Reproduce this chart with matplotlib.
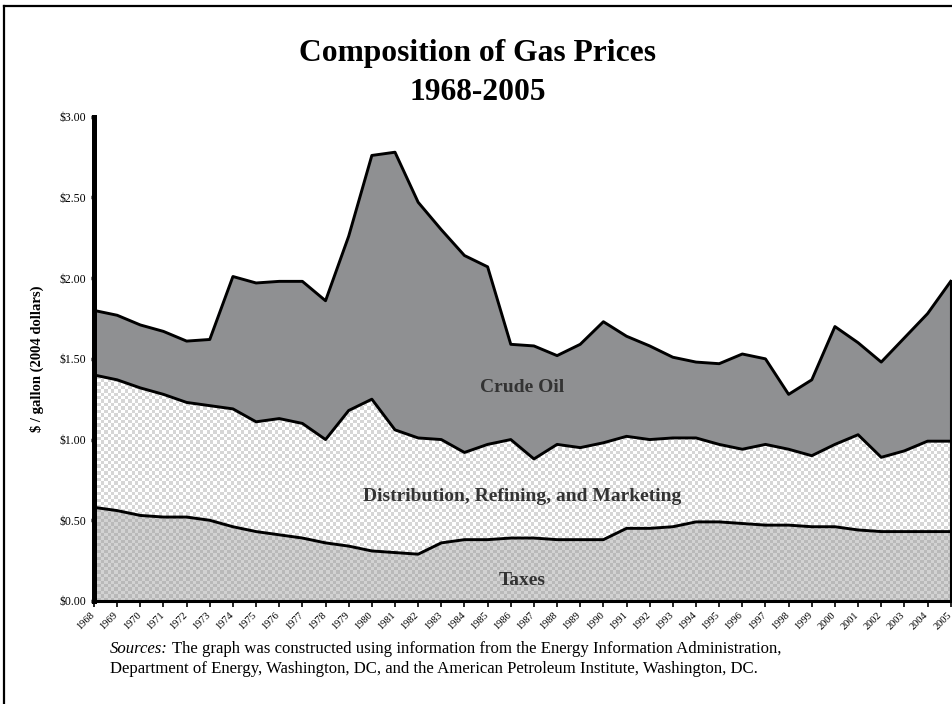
import numpy as np
import matplotlib.pyplot as plt
from matplotlib.colors import ListedColormap
from matplotlib.lines import Line2D
from matplotlib.transforms import ScaledTranslation

# Serif font like the original (Times style)
plt.rcParams['font.family'] = ['Liberation Serif', 'DejaVu Serif']

# Data ($ / gallon, 2004 dollars)
years = list(range(1968, 2006))
taxes = [0.58, 0.56, 0.53, 0.52, 0.52, 0.50, 0.46, 0.43, 0.41, 0.39,
         0.36, 0.34, 0.31, 0.30, 0.29, 0.36, 0.38, 0.38, 0.39, 0.39,
         0.38, 0.38, 0.38, 0.45, 0.45, 0.46, 0.49, 0.49, 0.48, 0.47,
         0.47, 0.46, 0.46, 0.44, 0.43, 0.43, 0.43, 0.43]
distribution = [0.82, 0.81, 0.79, 0.76, 0.71, 0.71, 0.73, 0.68, 0.72, 0.71,
                0.64, 0.84, 0.94, 0.76, 0.72, 0.64, 0.54, 0.59, 0.61, 0.49,
                0.59, 0.57, 0.60, 0.57, 0.55, 0.55, 0.52, 0.48, 0.46, 0.50,
                0.47, 0.44, 0.51, 0.59, 0.46, 0.50, 0.56, 0.56]
crude_oil = [0.40, 0.40, 0.39, 0.39, 0.38, 0.41, 0.82, 0.86, 0.85, 0.88,
             0.86, 1.08, 1.51, 1.72, 1.46, 1.30, 1.22, 1.10, 0.59, 0.70,
             0.55, 0.64, 0.75, 0.62, 0.58, 0.50, 0.47, 0.50, 0.59, 0.53,
             0.34, 0.47, 0.73, 0.57, 0.59, 0.70, 0.79, 0.99]
year_labels = [str(y) for y in years]
y_ticks = [0.0, 0.5, 1.0, 1.5, 2.0, 2.5, 3.0]
y_tick_labels = ['$0.00', '$0.50', '$1.00', '$1.50', '$2.00', '$2.50', '$3.00']
area_labels = ['Crude Oil', 'Distribution, Refining, and Marketing', 'Taxes']

W, H = 953, 704
fig = plt.figure(figsize=(W / 100, H / 100), dpi=100)
ax = fig.add_axes([94 / W, 1 - 601 / H, (950.7 - 94) / W, (601 - 116.7) / H])

tax_line = np.array(taxes)
mid_line = tax_line + np.array(distribution)
top_line = mid_line + np.array(crude_oil)


def checker_fill(y1, y2, c1, c2, cell=3.4):
    # fill an area with a small checkerboard texture
    poly = ax.fill_between(years, y1, y2, facecolor='none', edgecolor='none', lw=0)
    pos = ax.get_position()
    nx = int(pos.width * W / cell)
    ny = int(pos.height * H / cell)
    grid = np.add.outer(np.arange(ny), np.arange(nx)) % 2
    im = ax.imshow(grid, cmap=ListedColormap([c1, c2]), extent=(years[0], years[-1], 0, 3),
                   aspect='auto', interpolation='nearest', zorder=1)
    im.set_clip_path(poly.get_paths()[0], poly.get_transform())


checker_fill(0, tax_line, '#b9b9b9', '#d2d2d2')
checker_fill(tax_line, mid_line, '#ffffff', '#d6d6d6')
ax.fill_between(years, mid_line, top_line, color='#8f9092', lw=0, zorder=1)

for line in [tax_line, mid_line, top_line]:
    ax.plot(years, line, color='black', lw=2.1, zorder=3, clip_on=False)
ax.plot([years[-1], years[-1]], [0, top_line[-1]], color='black', lw=1.5, zorder=3, clip_on=False)

ax.set_xlim(years[0], years[-1])
ax.set_ylim(0, 3)

# labels inside the areas
ax.text(1986.5, 1.32, area_labels[0], ha='center', va='center', fontsize=14,
        fontweight='bold', color='#333333', zorder=4)
ax.text(1986.5, 0.645, area_labels[1], ha='center', va='center', fontsize=14,
        fontweight='bold', color='#333333', zorder=4)
ax.text(1986.5, 0.13, area_labels[2], ha='center', va='center', fontsize=14,
        fontweight='bold', color='#333333', zorder=4)

# axes styling
for s in ['top', 'right']:
    ax.spines[s].set_visible(False)
ax.spines['left'].set_linewidth(3.6)
ax.spines['bottom'].set_linewidth(2.2)
ax.spines['left'].set_zorder(5)
ax.spines['bottom'].set_zorder(5)

ax.set_yticks(y_ticks)
ax.set_yticklabels(y_tick_labels, fontsize=8.5)
ax.tick_params(axis='y', length=2.5, width=2.5, pad=3)
ax.set_xticks(years)
ax.set_xticklabels(year_labels, rotation=45, ha='right', rotation_mode='anchor', fontsize=7.5)
ax.tick_params(axis='x', length=4, width=1.2, pad=3)
shift = ScaledTranslation(-4 / 100, 0, fig.dpi_scale_trans)
for lab in ax.get_xticklabels():
    lab.set_transform(lab.get_transform() + shift)
ax.set_ylabel(r'\$ / gallon (2004 dollars)', fontsize=10.5, fontweight='bold', labelpad=11)

# title
fig.text(0.501, 1 - 53 / H, 'Composition of Gas Prices', ha='center', va='center',
         fontsize=22.7, fontweight='bold')
fig.text(0.501, 1 - 92 / H, '1968-2005', ha='center', va='center',
         fontsize=22.7, fontweight='bold')

# sources note
fig.canvas.draw()
renderer = fig.canvas.get_renderer()
t1 = fig.text(110 / W, 1 - 649 / H, 'Sources:', style='italic', fontsize=12.1, va='center')
bb = t1.get_window_extent(renderer)
fig.text((bb.x1 + 4) / W, 1 - 649 / H,
         'The graph was constructed using information from the Energy Information Administration,',
         fontsize=12.1, va='center')
fig.text(110 / W, 1 - 669 / H,
         'Department of Energy, Washington, DC, and the American Petroleum Institute, Washington, DC.',
         fontsize=12.1, va='center')

# frame around the figure (left and top edges visible)
fig.add_artist(Line2D([4 / W, 4 / W], [0, 1 - 6 / H], transform=fig.transFigure, color='black', lw=1.6))
fig.add_artist(Line2D([4 / W, 1], [1 - 6 / H, 1 - 6 / H], transform=fig.transFigure, color='black', lw=1.6))

fig.savefig('out.png', dpi=100)
